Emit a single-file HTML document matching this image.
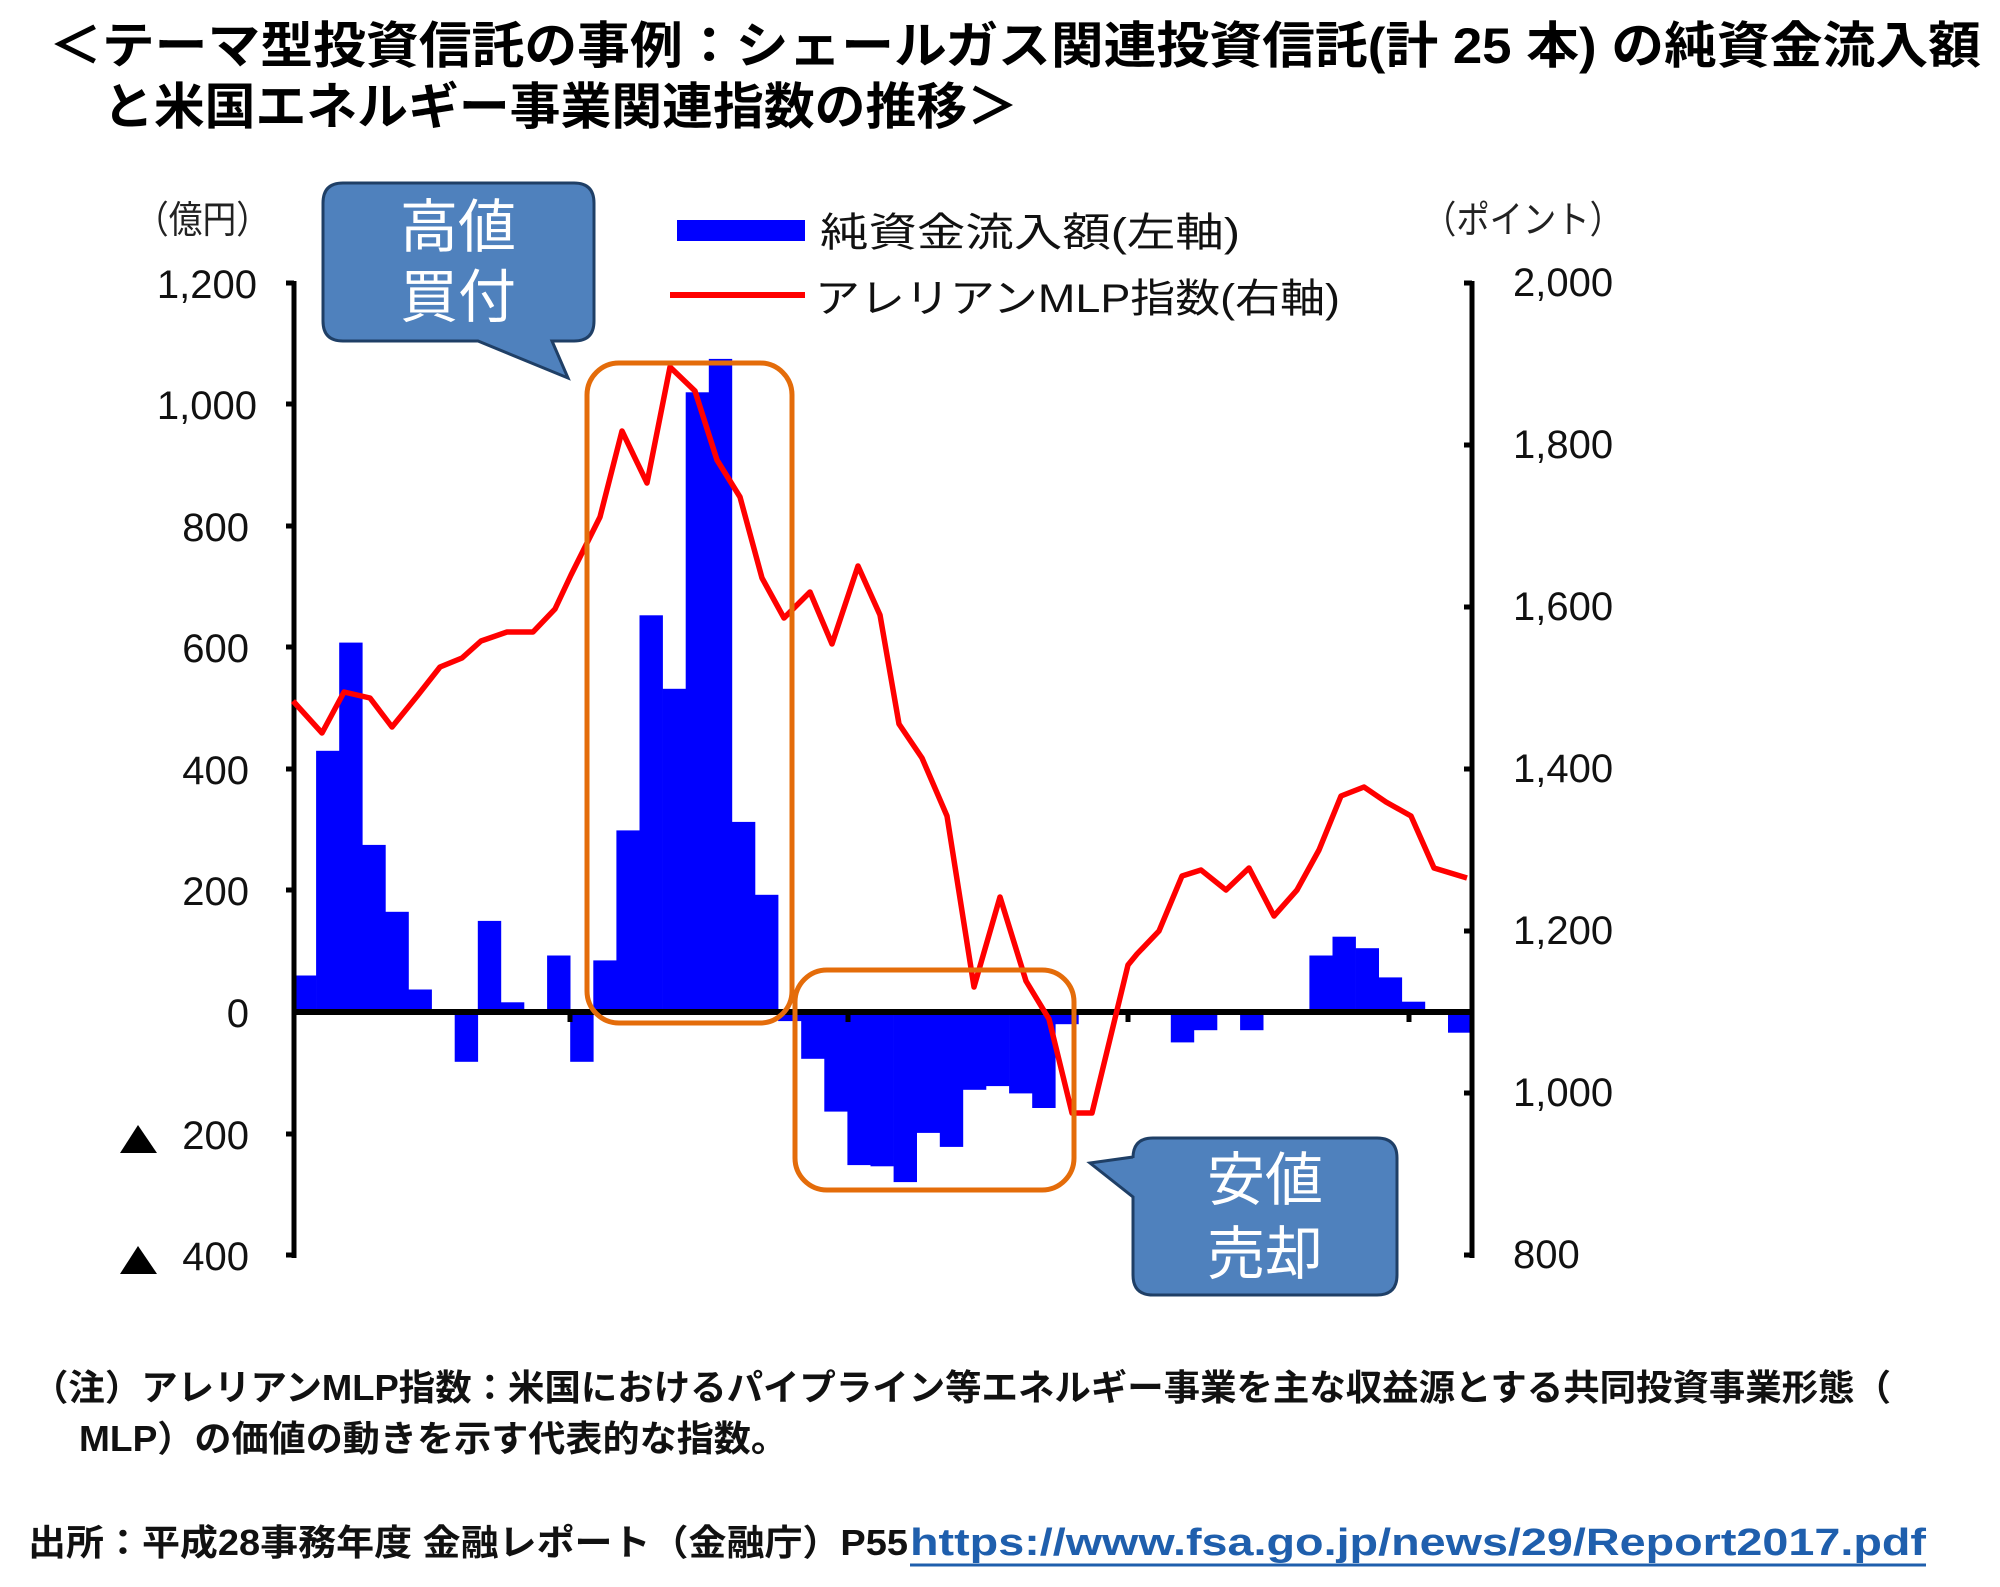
<!DOCTYPE html>
<html><head><meta charset="utf-8"><style>
html,body{margin:0;padding:0;background:#fff;}
svg{display:block;}
text{font-family:"Liberation Sans","Noto Sans CJK JP",sans-serif;}
</style></head><body>
<svg width="2000" height="1587" viewBox="0 0 2000 1587" xmlns="http://www.w3.org/2000/svg">
<!-- Title -->
<text x="49" y="63" font-size="50" font-weight="bold" textLength="1932" lengthAdjust="spacingAndGlyphs">＜テーマ型投資信託の事例：シェールガス関連投資信託(計 25 本) の純資金流入額</text>
<text x="103" y="124" font-size="50" font-weight="bold" textLength="915" lengthAdjust="spacingAndGlyphs">と米国エネルギー事業関連指数の推移＞</text>

<!-- bars -->
<g fill="#0000FF">
<rect x="293.0" y="975.5" width="23.4" height="36.5"/>
<rect x="316.1" y="750.8" width="23.4" height="261.2"/>
<rect x="339.2" y="642.6" width="23.4" height="369.4"/>
<rect x="362.3" y="844.9" width="23.4" height="167.1"/>
<rect x="385.4" y="911.8" width="23.4" height="100.2"/>
<rect x="408.5" y="989.5" width="23.4" height="22.5"/>
<rect x="454.7" y="1012" width="23.4" height="49.8"/>
<rect x="477.8" y="920.9" width="23.4" height="91.1"/>
<rect x="500.9" y="1002.3" width="23.4" height="9.7"/>
<rect x="547.1" y="955.5" width="23.4" height="56.5"/>
<rect x="570.2" y="1012" width="23.4" height="49.8"/>
<rect x="593.3" y="960.4" width="23.4" height="51.6"/>
<rect x="616.4" y="830.4" width="23.4" height="181.6"/>
<rect x="639.5" y="615.3" width="23.4" height="396.7"/>
<rect x="662.6" y="688.8" width="23.4" height="323.2"/>
<rect x="685.7" y="392.3" width="23.4" height="619.7"/>
<rect x="708.8" y="358.9" width="23.4" height="653.1"/>
<rect x="731.9" y="821.9" width="23.4" height="190.1"/>
<rect x="755.0" y="894.8" width="23.4" height="117.2"/>
<rect x="778.1" y="1012" width="23.4" height="9.1"/>
<rect x="801.2" y="1012" width="23.4" height="46.8"/>
<rect x="824.3" y="1012" width="23.4" height="99.6"/>
<rect x="847.4" y="1012" width="23.4" height="153.1"/>
<rect x="870.5" y="1012" width="23.4" height="154.3"/>
<rect x="893.6" y="1012" width="23.4" height="170.1"/>
<rect x="916.7" y="1012" width="23.4" height="120.9"/>
<rect x="939.8" y="1012" width="23.4" height="134.9"/>
<rect x="962.9" y="1012" width="23.4" height="77.8"/>
<rect x="986.0" y="1012" width="23.4" height="74.1"/>
<rect x="1009.1" y="1012" width="23.4" height="81.4"/>
<rect x="1032.2" y="1012" width="23.4" height="96.0"/>
<rect x="1055.3" y="1012" width="23.4" height="12.2"/>
<rect x="1170.8" y="1012" width="23.4" height="30.4"/>
<rect x="1193.9" y="1012" width="23.4" height="18.2"/>
<rect x="1240.1" y="1012" width="23.4" height="18.2"/>
<rect x="1309.4" y="955.5" width="23.4" height="56.5"/>
<rect x="1332.5" y="936.7" width="23.4" height="75.3"/>
<rect x="1355.6" y="948.2" width="23.4" height="63.8"/>
<rect x="1378.7" y="977.4" width="23.4" height="34.6"/>
<rect x="1401.8" y="1001.7" width="23.4" height="10.3"/>
<rect x="1448.0" y="1012" width="23.4" height="20.7"/>
</g>

<!-- axes -->
<g stroke="#000" stroke-width="5" fill="none">
<line x1="294" y1="281" x2="294" y2="1258"/>
<line x1="1472" y1="281" x2="1472" y2="1258"/>
<line x1="292" y1="1012" x2="1474" y2="1012" stroke-width="6"/>
</g>
<g stroke="#000" stroke-width="5">
<line x1="286" y1="283" x2="294" y2="283"/><line x1="286" y1="404" x2="294" y2="404"/><line x1="286" y1="526" x2="294" y2="526"/><line x1="286" y1="647" x2="294" y2="647"/><line x1="286" y1="769" x2="294" y2="769"/><line x1="286" y1="890" x2="294" y2="890"/><line x1="286" y1="1134" x2="294" y2="1134"/><line x1="286" y1="1255" x2="294" y2="1255"/>
<line x1="1464" y1="283" x2="1472" y2="283"/><line x1="1464" y1="445" x2="1472" y2="445"/><line x1="1464" y1="607" x2="1472" y2="607"/><line x1="1464" y1="769" x2="1472" y2="769"/><line x1="1464" y1="931" x2="1472" y2="931"/><line x1="1464" y1="1093" x2="1472" y2="1093"/><line x1="1464" y1="1255" x2="1472" y2="1255"/>
<line x1="570" y1="1012" x2="570" y2="1022"/><line x1="848" y1="1012" x2="848" y2="1022"/><line x1="1128" y1="1012" x2="1128" y2="1022"/><line x1="1409" y1="1012" x2="1409" y2="1022"/>
</g>

<!-- left tick labels -->
<g font-size="40" text-anchor="end" fill="#111">
<text x="257" y="298">1,200</text>
<text x="257" y="419">1,000</text>
<text x="249" y="541">800</text>
<text x="249" y="662">600</text>
<text x="249" y="784">400</text>
<text x="249" y="905">200</text>
<text x="249" y="1027">0</text>
<text x="249" y="1149">200</text>
<text x="249" y="1270">400</text>
</g>
<polygon points="120,1153 157,1153 138,1125" fill="#000"/>
<polygon points="120,1274 157,1274 138,1246" fill="#000"/>
<!-- right tick labels -->
<g font-size="40" fill="#111">
<text x="1513" y="296">2,000</text>
<text x="1513" y="458">1,800</text>
<text x="1513" y="620">1,600</text>
<text x="1513" y="782">1,400</text>
<text x="1513" y="944">1,200</text>
<text x="1513" y="1106">1,000</text>
<text x="1513" y="1268">800</text>
</g>
<text x="135" y="233" font-size="38" fill="#222" textLength="135" lengthAdjust="spacingAndGlyphs">（億円）</text>
<text x="1423" y="233" font-size="38" fill="#222" textLength="200" lengthAdjust="spacingAndGlyphs">（ポイント）</text>

<!-- legend -->
<rect x="677" y="220" width="128" height="21" fill="#0000FF"/>
<text x="820" y="246" font-size="40" fill="#111" textLength="420" lengthAdjust="spacingAndGlyphs">純資金流入額(左軸)</text>
<line x1="670" y1="295" x2="805" y2="295" stroke="#FF0000" stroke-width="6"/>
<text x="815" y="312" font-size="40" fill="#111" textLength="525" lengthAdjust="spacingAndGlyphs">アレリアンMLP指数(右軸)</text>

<!-- red line -->
<polyline fill="none" stroke="#FF0000" stroke-width="5.5" stroke-linejoin="round" points="293,701 322,733 344,692 370,698 392,727 418,695 440,667 462,658 481,641 507,632 533,632 555,609 571,575 600,517 622,431 647,483 670,367 695,391 717,460 740,497 762,578 784,618 810,592 832,644 858,566 880,615 899,724 922,758 947,816 974,987 1000,897 1026,981 1049,1019 1072,1113 1092,1113 1128,965 1137,954 1159,931 1182,876 1201,870 1226,890 1249,868 1274,916 1297,890 1319,850 1341,796 1364,787 1386,802 1411,816 1434,868 1467,878"/>

<!-- orange boxes -->
<rect x="587" y="363" width="205" height="660" rx="32" fill="none" stroke="#E46C0A" stroke-width="5"/>
<rect x="795" y="970" width="279" height="220" rx="32" fill="none" stroke="#E46C0A" stroke-width="5"/>

<!-- callouts -->
<path d="M343,183 H574 Q594,183 594,203 V321 Q594,341 574,341 H552 L568,378 L478,341 H343 Q323,341 323,321 V203 Q323,183 343,183 Z" fill="#4F81BD" stroke="#1F3F66" stroke-width="3"/>
<text x="458" y="247" font-size="58" fill="#fff" text-anchor="middle">高値</text>
<text x="458" y="317" font-size="58" fill="#fff" text-anchor="middle">買付</text>
<path d="M1153,1138 H1377 Q1397,1138 1397,1158 V1275 Q1397,1295 1377,1295 H1153 Q1133,1295 1133,1275 V1197 L1090,1163 L1133,1157 V1158 Q1133,1138 1153,1138 Z" fill="#4F81BD" stroke="#1F3F66" stroke-width="3"/>
<text x="1265" y="1200" font-size="58" fill="#fff" text-anchor="middle">安値</text>
<text x="1265" y="1274" font-size="58" fill="#fff" text-anchor="middle">売却</text>

<!-- footnotes -->
<text x="32" y="1400" font-size="36" font-weight="bold" fill="#111" textLength="1859" lengthAdjust="spacingAndGlyphs">（注）アレリアンMLP指数：米国におけるパイプライン等エネルギー事業を主な収益源とする共同投資事業形態（</text>
<text x="79" y="1451" font-size="36" font-weight="bold" fill="#111" textLength="709" lengthAdjust="spacingAndGlyphs">MLP）の価値の動きを示す代表的な指数。</text>
<text x="28" y="1555" font-size="36" font-weight="bold" fill="#111" textLength="880" lengthAdjust="spacingAndGlyphs">出所：平成28事務年度 金融レポート（金融庁）P55</text>
<text x="910" y="1555" font-size="38" font-weight="bold" fill="#1F5FAD" textLength="1016" lengthAdjust="spacingAndGlyphs">https://www.fsa.go.jp/news/29/Report2017.pdf</text>
<line x1="910" y1="1565" x2="1926" y2="1565" stroke="#1F5FAD" stroke-width="3"/>
</svg>
</body></html>
